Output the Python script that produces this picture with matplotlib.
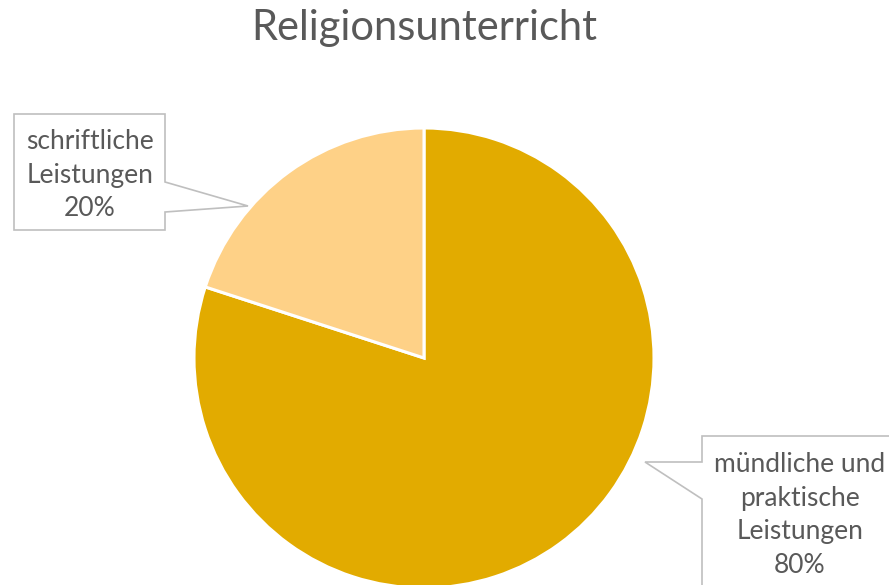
import matplotlib
matplotlib.use('Agg')
import matplotlib.pyplot as plt
from matplotlib.patches import Polygon

plt.rcParams['font.family'] = ['Lato', 'DejaVu Sans']

# data
title = 'Religionsunterricht'
labels = ['mündliche und\npraktische\nLeistungen', 'schriftliche\nLeistungen']
shares = [80, 20]
colors = ['#E2AB00', '#FED187']

W, H = 889, 585
text_c = '#595959'
edge_c = '#BFBFBF'


def fy(y):
    # pixel row (from top) -> axes y (from bottom)
    return H - y


fig = plt.figure(figsize=(W / 100, H / 100), dpi=100)
ax = fig.add_axes([0, 0, 1, 1])

ax.pie(shares, colors=colors, startangle=90, counterclock=False,
       center=(424, fy(358)), radius=230,
       wedgeprops=dict(edgecolor='white', linewidth=2.2))
ax.set_xlim(0, W)
ax.set_ylim(0, H)
ax.set_aspect('equal')
ax.axis('off')

ax.text(424, fy(28), title, ha='center', va='center',
        fontsize=30, color=text_c)

# callout for the small slice (left)
left_box = [(14, 114), (165, 114), (165, 182), (248, 206), (165, 212),
            (165, 230), (14, 230)]
ax.add_patch(Polygon([(x, fy(y)) for x, y in left_box], closed=True,
                     facecolor='white', edgecolor=edge_c, lw=1.2, zorder=3))
ax.text(90, fy(175), f'{labels[1]}\n{shares[1]}%', ha='center', va='center',
        fontsize=19, color=text_c, linespacing=1.42, zorder=4)

# callout for the large slice (right, runs off the canvas)
right_box = [(702, 436), (900, 436), (900, 600), (702, 600), (702, 499),
             (645, 462), (702, 462)]
ax.add_patch(Polygon([(x, fy(y)) for x, y in right_box], closed=True,
                     facecolor='white', edgecolor=edge_c, lw=1.2, zorder=3,
                     clip_on=True))
ax.text(800, fy(515), f'{labels[0]}\n{shares[0]}%', ha='center', va='center',
        fontsize=19, color=text_c, linespacing=1.42, zorder=4)

fig.savefig('out.png', dpi=100)
